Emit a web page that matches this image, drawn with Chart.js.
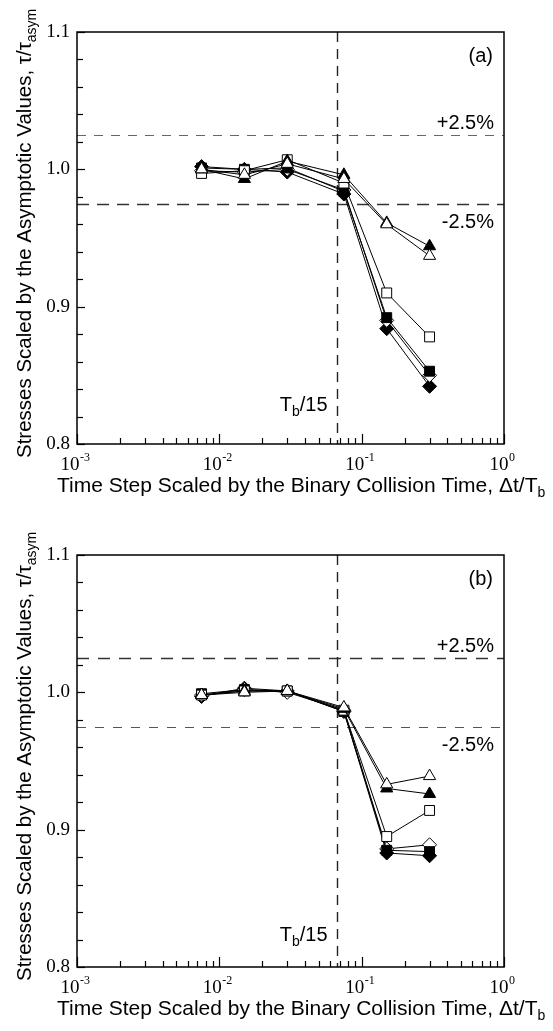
<!DOCTYPE html>
<html><head><meta charset="utf-8">
<script src="https://cdn.jsdelivr.net/npm/chart.js@4.4.1/dist/chart.umd.min.js"></script>
<style>
html,body{margin:0;padding:0;background:#fff;}
#wrap{width:553px;height:1031px;position:relative;overflow:hidden;}
.pane{position:absolute;left:0;width:553px;}
</style></head><body>
<div id="wrap">
  <div class="pane" style="top:0;height:520px"><canvas id="ca"></canvas></div>
  <div class="pane" style="top:520px;height:511px"><canvas id="cb"></canvas></div>
</div>
<script>
// ---------- data ----------
const timeSteps = [0.0075, 0.015, 0.03, 0.075, 0.15, 0.3];   // Δt/T_b
const seriesNames = ['open triangle','filled triangle','open square','filled square','open diamond','filled diamond'];
// panel (a)
const a_triOpen   = [1.000, 0.996, 1.004, 0.993, 0.960, 0.937];
const a_triFilled = [1.000, 0.993, 1.006, 0.996, 0.961, 0.944];
const a_sqOpen    = [0.997, 0.999, 1.007, 0.990, 0.910, 0.878];
const a_sqFilled  = [1.001, 1.000, 1.001, 0.984, 0.892, 0.853];
const a_diaOpen   = [0.999, 0.998, 1.000, 0.985, 0.890, 0.850];
const a_diaFilled = [1.002, 1.000, 0.998, 0.982, 0.884, 0.842];
// panel (b)
const b_triOpen   = [0.998, 1.000, 1.001, 0.989, 0.933, 0.939];
const b_triFilled = [0.998, 1.001, 1.001, 0.988, 0.930, 0.926];
const b_sqOpen    = [0.998, 1.001, 1.001, 0.987, 0.895, 0.914];
const b_sqFilled  = [0.999, 1.002, 1.001, 0.986, 0.885, 0.884];
const b_diaOpen   = [0.998, 1.002, 1.000, 0.987, 0.886, 0.889];
const b_diaFilled = [0.997, 1.003, 1.001, 0.986, 0.883, 0.881];
// axes / ticks / reference lines
const yTickValues = [0.8, 0.9, 1.0, 1.1];
const yTickLabels = ['0.8', '0.9', '1.0', '1.1'];
const yMinorStep = 0.02;
const xTickValues = [0.001, 0.01, 0.1, 1];
const xTickExponents = ['-3', '-2', '-1', '0'];
const refLevels = [1.025, 0.975];
const refLabels = ['+2.5%', '-2.5%'];
const vLineValue = 1 / 15;
const vLineLabel = ['T', 'b', '/15'];
const panelLabels = ['(a)', '(b)'];

// ---------- styling ----------
const SANS = '"Liberation Sans", Arial, Helvetica, sans-serif';
const SERIF = '"Liberation Serif", "Times New Roman", Times, serif';
const markerStyles = [
  {style:'triangle', fill:'#fff', r:7},
  {style:'triangle', fill:'#000', r:7},
  {style:'rect', fill:'#fff', r:7},
  {style:'rect', fill:'#000', r:7},
  {style:'rectRot', fill:'#fff', r:7},
  {style:'rectRot', fill:'#000', r:7}
];

function drawRich(ctx, parts, x, y, align) {
  // parts: [text, size, dy]
  let total = 0;
  parts.forEach(p => { ctx.font = p[1] + 'px ' + SANS; total += ctx.measureText(p[0]).width; });
  let cx = align === 'right' ? x - total : (align === 'center' ? x - total / 2 : x);
  ctx.textAlign = 'left';
  parts.forEach(p => {
    ctx.font = p[1] + 'px ' + SANS;
    ctx.fillText(p[0], cx, y + p[2]);
    cx += ctx.measureText(p[0]).width;
  });
}

function framePlugin(cfg) {
  return {
    id: 'frame' + cfg.idx,
    beforeDatasetsDraw(chart) {
      const ctx = chart.ctx, a = chart.chartArea;
      const xs = chart.scales.x, ys = chart.scales.y;
      ctx.save();
      refLevels.forEach((lv, i) => {
        const st = cfg.refStyles[i];
        const py = Math.round(ys.getPixelForValue(lv)) + 0.5;
        ctx.strokeStyle = st.color; ctx.lineWidth = st.w; ctx.setLineDash(st.dash);
        ctx.beginPath(); ctx.moveTo(a.left, py); ctx.lineTo(a.right, py); ctx.stroke();
      });
      const px = Math.round(xs.getPixelForValue(vLineValue)) + 0.5;
      ctx.strokeStyle = '#222'; ctx.lineWidth = 1.4; ctx.setLineDash([10, 7]);
      ctx.beginPath(); ctx.moveTo(px, a.top); ctx.lineTo(px, a.bottom); ctx.stroke();
      ctx.restore();
    },
    afterDraw(chart) {
      const ctx = chart.ctx, a = chart.chartArea;
      const xs = chart.scales.x, ys = chart.scales.y;
      ctx.save();
      ctx.setLineDash([]);
      ctx.fillStyle = '#000';
      ctx.strokeStyle = '#000';
      // frame
      ctx.lineWidth = 1.5;
      ctx.strokeRect(a.left, a.top, a.right - a.left, a.bottom - a.top);
      // y ticks
      ctx.lineWidth = 1.2;
      const nY = Math.round((yTickValues[yTickValues.length - 1] - yTickValues[0]) / yMinorStep);
      for (let k = 0; k <= nY; k++) {
        const v = yTickValues[0] + k * yMinorStep;
        const py = Math.round(ys.getPixelForValue(v)) + 0.5;
        const len = (k % 5 === 0) ? 8 : 6;
        ctx.beginPath(); ctx.moveTo(a.left, py); ctx.lineTo(a.left + len, py); ctx.stroke();
      }
      // x ticks (major + minor)
      xTickValues.forEach((d, i) => {
        const px = Math.round(xs.getPixelForValue(d)) + 0.5;
        ctx.beginPath(); ctx.moveTo(px, a.bottom); ctx.lineTo(px, a.bottom - 10); ctx.stroke();
        if (i < xTickValues.length - 1) {
          for (let m = 2; m <= 9; m++) {
            const qx = Math.round(xs.getPixelForValue(d * m)) + 0.5;
            ctx.beginPath(); ctx.moveTo(qx, a.bottom); ctx.lineTo(qx, a.bottom - 6); ctx.stroke();
          }
        }
      });
      // y tick labels
      ctx.font = '19px ' + SERIF;
      ctx.textAlign = 'right'; ctx.textBaseline = 'middle';
      yTickValues.forEach((v, i) => {
        ctx.fillText(yTickLabels[i], a.left - 7, ys.getPixelForValue(v));
      });
      // x tick labels 10^n
      ctx.textBaseline = 'alphabetic';
      xTickValues.forEach((d, i) => {
        const px = xs.getPixelForValue(d);
        ctx.font = '19px ' + SERIF;
        const w1 = ctx.measureText('10').width;
        ctx.font = '12px ' + SERIF;
        const w2 = ctx.measureText(xTickExponents[i]).width;
        const x0 = px - 2 - (w1 + w2) / 2;
        ctx.textAlign = 'left';
        ctx.font = '19px ' + SERIF;
        ctx.fillText('10', x0, a.bottom + 26);
        ctx.font = '12px ' + SERIF;
        ctx.fillText(xTickExponents[i], x0 + w1 + 0.5, a.bottom + 17);
      });
      // x title
      ctx.textBaseline = 'alphabetic';
      drawRich(ctx, [['Time Step Scaled by the Binary Collision Time, \u0394t/T', 21, 0], ['b', 14, 5]], 57, a.bottom + 48, 'left');
      // y title (rotated)
      ctx.save();
      ctx.translate(31, a.bottom + 14);
      ctx.rotate(-Math.PI / 2);
      drawRich(ctx, [['Stresses Scaled by the Asymptotic Values, \u03c4/\u03c4', 20.5, 0], ['asym', 14, 5]], 0, 0, 'left');
      ctx.restore();
      // panel label
      ctx.font = '20px ' + SANS;
      ctx.textAlign = 'right'; ctx.textBaseline = 'middle';
      ctx.fillText(panelLabels[cfg.idx], a.right - 11, a.top + 24);
      // percentage labels
      ctx.font = '20px ' + SANS;
      ctx.textAlign = 'right'; ctx.textBaseline = 'middle';
      ctx.fillText(refLabels[0], a.right - 10, ys.getPixelForValue(refLevels[0]) - 12);
      ctx.fillText(refLabels[1], a.right - 10, ys.getPixelForValue(refLevels[1]) + 19);
      // T_b/15
      ctx.textBaseline = 'alphabetic';
      const vx = xs.getPixelForValue(vLineValue);
      drawRich(ctx, [[vLineLabel[0], 20, 0], [vLineLabel[1], 14, 5], [vLineLabel[2], 20, 0]], vx - 9, a.bottom - cfg.tbOffset, 'right');
      ctx.restore();
    }
  };
}

function makeChart(id, sets, cfg) {
  const datasets = sets.map((vals, i) => ({
    label: seriesNames[i],
    data: timeSteps.map((x, j) => ({x: x, y: vals[j]})),
    borderColor: '#000',
    borderWidth: 1,
    pointStyle: markerStyles[i].style,
    pointRadius: markerStyles[i].r,
    pointBackgroundColor: markerStyles[i].fill,
    pointBorderColor: '#000',
    pointBorderWidth: 1,
    tension: 0,
    fill: false
  }));
  return new Chart(document.getElementById(id), {
    type: 'line',
    data: {datasets: datasets},
    options: {
      responsive: true,
      maintainAspectRatio: false,
      animation: false,
      events: [],
      layout: {padding: {left: 77, right: 49, top: cfg.top, bottom: cfg.bottom}},
      plugins: {legend: {display: false}, tooltip: {enabled: false}},
      scales: {
        x: {type: 'logarithmic', min: 0.001, max: 1, display: false},
        y: {type: 'linear', min: 0.8, max: 1.1, display: false}
      }
    },
    plugins: [framePlugin(cfg)]
  });
}

makeChart('ca', [a_triOpen, a_triFilled, a_sqOpen, a_sqFilled, a_diaOpen, a_diaFilled], {
  idx: 0, top: 32, bottom: 76, tbOffset: 33,
  refStyles: [{color: '#666', w: 1, dash: [9, 8]}, {color: '#333', w: 1.6, dash: [12, 8]}]
});
makeChart('cb', [b_triOpen, b_triFilled, b_sqOpen, b_sqFilled, b_diaOpen, b_diaFilled], {
  idx: 1, top: 35, bottom: 64, tbOffset: 26,
  refStyles: [{color: '#333', w: 1.6, dash: [12, 9]}, {color: '#555', w: 1, dash: [9, 9]}]
});
</script>
</body></html>
